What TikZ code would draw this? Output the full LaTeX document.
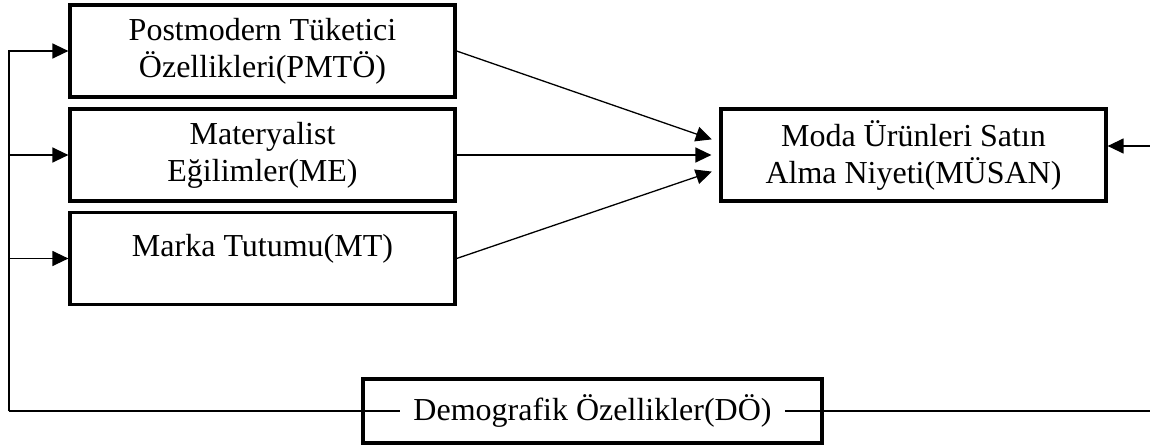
\documentclass[tikz,border=0pt]{standalone}
\usepackage{fontspec}
\setmainfont{Liberation Serif}
\usetikzlibrary{arrows.meta}

\tikzset{
    kutu/.style={draw, line width=3.2pt, minimum width=385pt, minimum height=92pt, align=center, inner sep=0pt},
    ok/.style={-{Triangle[length=16pt,width=15pt]}, line width=1.3pt},
    cizgi/.style={line width=1.3pt}
}

\begin{document}
\begin{tikzpicture}[x=1pt, y=-1pt, font=\fontsize{32}{37}\selectfont]
        \useasboundingbox (0,0) rectangle (1150,447);

        \node[kutu] (pmto) at (262.5,51) {Postmodern Tüketici\\Özellikleri(PMTÖ)};
        \node[kutu] (me) at (262.5,155) {Materyalist\\Eğilimler(ME)};
        \node[kutu, text depth=27pt] (mt) at (262.5,258.5) {Marka Tutumu(MT)};
        \node[kutu] (musan) at (913.5,155) {Moda Ürünleri Satın\\Alma Niyeti(MÜSAN)};
        \node[kutu, minimum width=459pt, minimum height=64pt] (do) at (592.5,411) {};
        \node[inner xsep=13pt, inner ysep=0pt] (dotxt) at (do) {Demografik Özellikler(DÖ)};

        \coordinate (sol) at (9,411);
        \coordinate (sagust) at (1150,146);
        \coordinate (sagalt) at (1150,411);

        \foreach \n in {pmto,me,mt} {
            \draw[ok] (sol) |- (\n.west);
        }
        \foreach \n/\s in {pmto/13,me/0,mt/-14} {
            \draw[ok, shorten >=8pt] (\n.east) -- ([yshift=\s pt]musan.west);
        }
        \draw[ok] (sagust) -- (sagust -| musan.east);

        \draw[cizgi] (sol) -- (dotxt.west);
        \draw[cizgi] (dotxt.east) -- (sagalt);
    \end{tikzpicture}
\end{document}
